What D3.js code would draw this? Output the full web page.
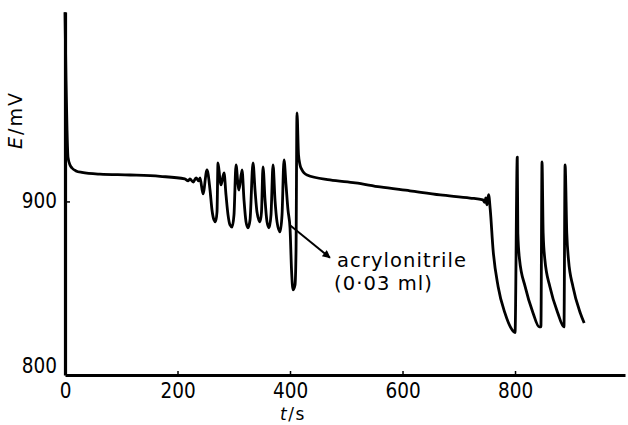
<!DOCTYPE html>
<html>
<head>
<meta charset="utf-8">
<script src="https://cdn.jsdelivr.net/npm/d3@7/dist/d3.min.js"></script>
<style>
  body { margin: 0; background: #fff; }
  svg { display: block; }
  .tick text { font-family: "DejaVu Sans Condensed", "DejaVu Sans", sans-serif; font-stretch: condensed; }
</style>
</head>
<body>
<svg id="chart" width="628" height="425"></svg>
<script>
  // time (s) and potential (mV)
  var tSec = [0, 1.8, 3.6, 5.3, 8.9, 12.4, 19.6, 30, 62, 116, 169, 213, 219, 222, 228, 233, 238,
    240, 245.3, 252.4, 257.8, 261.3, 264.9, 267.6, 270.2, 272, 275.6, 277.3, 282.7,
    286.2, 289.8, 293.3, 296.9, 300.4, 304, 307.6, 309.3, 314.7,
    318.2, 321.8, 325.3, 328.9, 334.2, 337.8, 341.3, 346.7, 349.3, 352,
    355.6, 359.1, 362.7, 366.2, 369.8, 373.3, 376.9, 382.2, 385.8, 389.3,
    392.9, 396.4, 400, 402.7, 405.3, 408.9, 410.7, 412.4, 415.1, 417.8, 421.3, 424.9, 430.2,
    471, 516, 560, 613, 667, 720, 743, 746, 748, 750, 753,
    756, 761, 770, 782, 795, 800, 804, 805, 808, 818, 832, 843, 846, 848, 850, 853, 862, 876, 887,
    889, 892, 895, 903, 916, 923];
  var eMv = [1011, 971, 942, 926, 921.4, 919.6, 917.9, 917, 916, 915.5, 914.7, 913.2, 912, 913.2, 911.4, 913.8, 912,
    913.8, 904.4, 918.5, 906.7, 895, 889.1, 888, 893.8, 922.6, 912.6, 909.7, 916.7,
    903.8, 892.1, 886.2, 885, 892.1, 921.4, 909.7, 906.7, 918.5,
    900.9, 888, 884.5, 889.1, 922.6, 906.7, 893.8, 888, 893.8, 920.2,
    900.9, 888, 884.5, 892.1, 921.4, 900.9, 888, 882.1, 892.1, 924.3,
    909.7, 895, 884.5, 859.8, 848.1, 851, 871.5, 951.9, 927.3, 921.4, 918.5, 916.7, 915.5,
    912.6, 910.9, 908.5, 906.2, 903.8, 902, 900.9, 899.5, 902, 898, 904,
    895, 871.6, 850, 834.6, 824.6, 823, 926, 881.5, 866, 850, 834.6, 826.4, 826.4, 923.2, 881.5, 866, 850, 834.6, 826.4,
    921.4, 881.5, 866, 850, 834.6, 828.7];

  var xTicks = [0, 200, 400, 600, 800];
  var yTicks = [800, 900];
  var note = ['acrylonitrile', '(0\u00b703 ml)'];
  var arrowFrom = [400, 886], arrowTo = [471, 867];

  var svg = d3.select('#chart');

  var x = d3.scaleLinear().domain([0, 995.5]).range([65, 625]),
      y = d3.scaleLinear().domain([798.2, 1011.1]).range([375, 12]);

  var xAxis = svg.append('g')
      .attr('transform', 'translate(0,375)')
      .call(d3.axisBottom(x).tickValues(xTicks).tickSize(-4).tickSizeOuter(0).tickPadding(8));

  var yAxis = svg.append('g')
      .attr('transform', 'translate(65,0)')
      .call(d3.axisLeft(y).tickValues(yTicks).tickSize(-5).tickSizeOuter(0).tickPadding(8));

  [xAxis, yAxis].forEach(function (ax) {
    ax.select('.domain').attr('stroke', '#000').attr('stroke-width', 3.2);
    ax.selectAll('.tick line').attr('stroke', '#000').attr('stroke-width', 1.5);
    ax.selectAll('.tick text').attr('fill', '#000').style('font-size', '20.5px');
  });
  yAxis.selectAll('.tick').filter(function (d) { return d === 800; }).select('line').remove();
  yAxis.selectAll('.tick').filter(function (d) { return d === 800; }).select('text').attr('dy', '0.05em');
  xAxis.selectAll('.tick').filter(function (d) { return d === 0; }).select('line').remove();

  // axis titles
  svg.append('text')
      .attr('transform', 'translate(22,120) rotate(-90)')
      .attr('text-anchor', 'middle')
      .style('font-family', '"DejaVu Sans", sans-serif')
      .style('font-size', '19px')
      .style('letter-spacing', '2px')
      .html('<tspan font-style="italic">E</tspan>/mV');

  svg.append('text')
      .attr('x', 293).attr('y', 420)
      .attr('text-anchor', 'middle')
      .style('font-family', '"DejaVu Sans", sans-serif')
      .style('font-size', '17px')
      .style('letter-spacing', '1.5px')
      .html('<tspan font-style="italic">t</tspan>/s');

  // trace
  var line = d3.line()
      .x(function (d, i) { return x(tSec[i]); })
      .y(function (d) { return y(d); })
      .curve(d3.curveMonotoneX);

  svg.append('path')
      .attr('d', line(eMv))
      .attr('fill', 'none')
      .attr('stroke', '#000')
      .attr('stroke-width', 2.8)
      .attr('stroke-linejoin', 'round');

  // annotation
  svg.append('defs').append('marker')
      .attr('id', 'head')
      .attr('viewBox', '0 0 10 10')
      .attr('refX', 9).attr('refY', 5)
      .attr('markerWidth', 10).attr('markerHeight', 8)
      .attr('markerUnits', 'userSpaceOnUse')
      .attr('orient', 'auto')
      .append('path').attr('d', 'M0,0 L10,5 L0,10 z').attr('fill', '#000');

  svg.append('line')
      .attr('x1', x(arrowFrom[0])).attr('y1', y(arrowFrom[1]))
      .attr('x2', x(arrowTo[0])).attr('y2', y(arrowTo[1]))
      .attr('stroke', '#000').attr('stroke-width', 2)
      .attr('marker-end', 'url(#head)');

  svg.selectAll('text.note')
      .data(note)
      .enter().append('text')
      .attr('class', 'note')
      .attr('x', function (d, i) { return x(arrowTo[0]) + (i ? 4 : 7); })
      .attr('y', function (d, i) { return y(arrowTo[1]) + 9 + i * 23; })
      .style('font-family', '"DejaVu Sans", sans-serif')
      .style('font-size', '19.5px')
      .style('letter-spacing', '1.1px')
      .text(function (d) { return d; });
</script>
</body>
</html>
